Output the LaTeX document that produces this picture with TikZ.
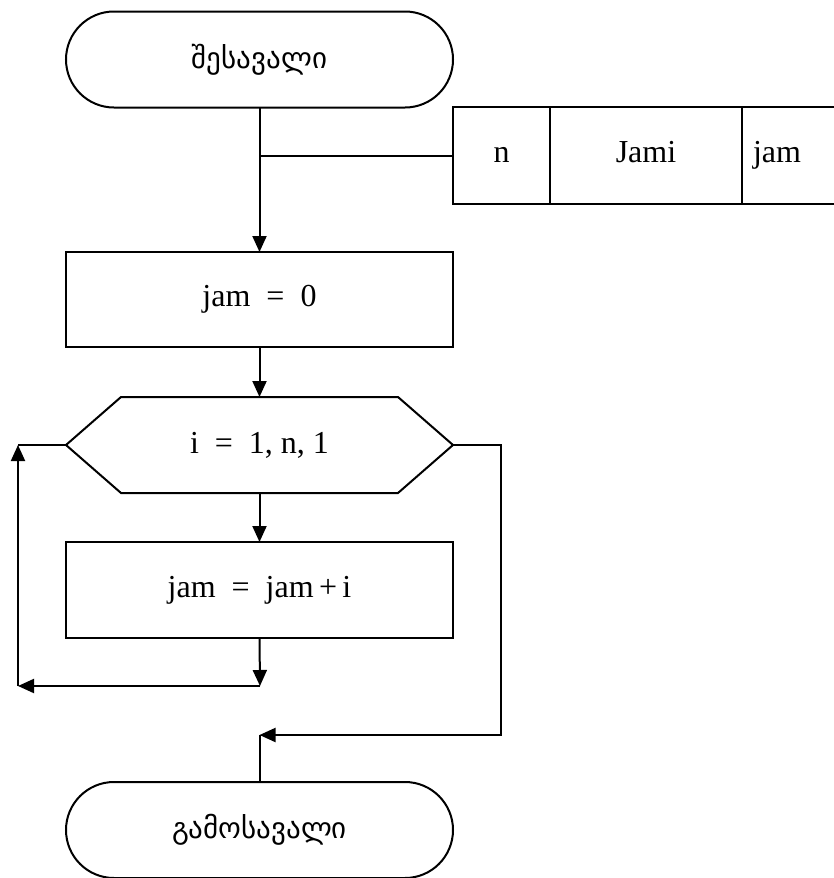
\documentclass[tikz,border=0pt]{standalone}
\usepackage{fontspec}
\setmainfont{Liberation Serif}
\newfontfamily\geofont[Script=Georgian]{DejaVu Sans}
\usetikzlibrary{arrows.meta,positioning,calc}
\begin{document}
\begin{tikzpicture}[x=1pt,y=-1pt,
  line width=2pt,
  every node/.style={font=\fontsize{32}{38}\selectfont, inner sep=0pt, outer sep=0pt},
  terminal/.style={draw, rounded corners=48pt, minimum width=387pt, minimum height=96pt},
  process/.style={draw, minimum width=387pt, minimum height=95pt},
  cell/.style={minimum height=97pt, text height=22pt, text depth=8pt},
  flow/.style={-{Triangle[length=16pt,width=14pt]}},
  geo/.style={font=\geofont\fontsize{29}{34}\selectfont}]
\useasboundingbox (0,0) rectangle (833,878);

% start / end terminals
\node[terminal] (start) at (259.5,59.5) {};
\node[geo] (starttxt) at (start) {შესავალი};
\node[terminal] (finish) at (259.5,830) {};
\node[geo] (finishtxt) at (finish) {გამოსავალი};

% parameter table: three cells, open to the right
\node[cell, minimum width=97pt] (cn) at (501.5,155.5) {n};
\node[cell, minimum width=192pt, right=0pt of cn] (cj) {Jami};
\node[cell, minimum width=110pt, right=0pt of cj] (cjam) {\makebox[88pt][l]{jam}};
\draw (cjam.north east) -- (cn.north west) -- (cn.south west) -- (cjam.south east);
\draw (cj.north west) -- (cj.south west);
\draw (cjam.north west) -- (cjam.south west);

% processing boxes
\node[process] (init) at (259.5,299.5) {jam~ =~ 0};
\node[minimum width=387pt, minimum height=96pt] (loop) at (259.5,445) {i~ =~ 1, n, 1};
\draw (loop.west) -- ($(loop.north west)+(55,0)$) -- ($(loop.north east)+(-55,0)$)
  -- (loop.east) -- ($(loop.south east)+(-55,0)$) -- ($(loop.south west)+(55,0)$) -- cycle;
\node[process, minimum height=96pt] (body) at (259.5,590) {jam~ =~ jam\,+\,i};

% helper points for the connectors
\coordinate (br) at (start.south |- cn.west);
\coordinate (c1) at (260,686);
\coordinate (c2) at (18,686);
\coordinate (c3) at (c2 |- loop.west);
\coordinate (e1) at (501,445);
\coordinate (e2) at (501,735);
\coordinate (e3) at (finish.north |- e2);

% connectors
\draw[flow] (start.south) -- (init.north);
\draw (br) -- (cn.west);
\draw[flow] (init.south) -- (loop.north);
\draw[flow] (loop.south) -- (body.north);
\draw[flow] (body.south) -- (c1);
\draw[flow] (c1) -- (c2);
\draw[flow] (c2) -- (c3);
\draw (c3) -- (loop.west);
\draw[flow] (loop.east) -- (e1) -- (e2) -- (e3);
\draw (finish.north) -- (e3);
\end{tikzpicture}
\end{document}
